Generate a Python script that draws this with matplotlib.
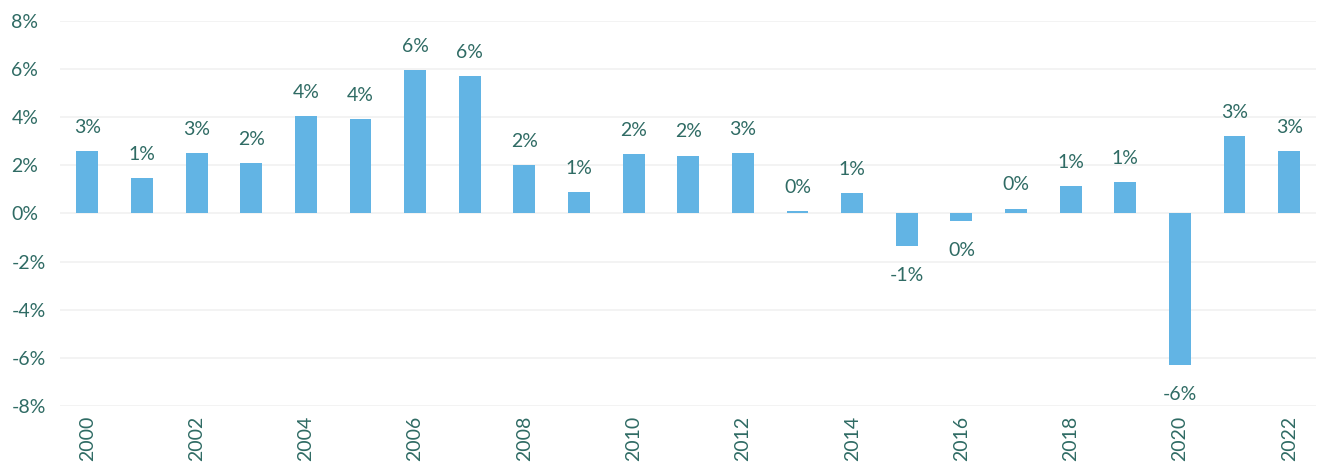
import matplotlib.pyplot as plt
import numpy as np

# annual growth, percent
years = list(range(2000, 2023))
growth = [2.57, 1.45, 2.52, 2.1, 4.05, 3.9, 5.95, 5.7, 2.0, 0.9,
          2.45, 2.4, 2.52, 0.08, 0.83, -1.35, -0.3, 0.2, 1.15, 1.3,
          -6.3, 3.2, 2.6]
yticks = [-8, -6, -4, -2, 0, 2, 4, 6, 8]

bar_color = '#62B4E4'
text_color = '#2F6B64'
grid_color = '#F1F1F1'

plt.rcParams['font.family'] = ['Lato', 'DejaVu Sans']

fig = plt.figure(figsize=(13.17, 4.70), dpi=100)
ax = fig.add_axes([0.0456, 0.136, 0.954, 0.82])

x = np.arange(len(years))
ax.bar(x, growth, width=0.4, color=bar_color, zorder=2)

# value labels above/below each bar
for xi, v in zip(x, growth):
    if v >= 0:
        off = 17
    else:
        off = -21.5
    ax.annotate(f"{int(round(v))}%", (xi, v), xytext=(0, off),
                textcoords='offset points', ha='center', va='center',
                fontsize=14, color=text_color, clip_on=False)

ax.set_xlim(-0.5, len(years) - 0.5)
ax.set_ylim(-8, 8)
ax.set_yticks(yticks)
ax.set_yticklabels([f"{t}%" for t in yticks], ha='left')
ax.set_xticks(x[::2])
ax.set_xticklabels([str(y) for y in years[::2]], rotation=90)

ax.grid(axis='y', color=grid_color, linewidth=1.2, zorder=0)
ax.set_axisbelow(True)
for s in ax.spines.values():
    s.set_visible(False)
ax.tick_params(axis='both', length=0, labelsize=14, labelcolor=text_color)
ax.tick_params(axis='x', pad=7)
ax.tick_params(axis='y', pad=35)

fig.savefig('out.png', dpi=100)
